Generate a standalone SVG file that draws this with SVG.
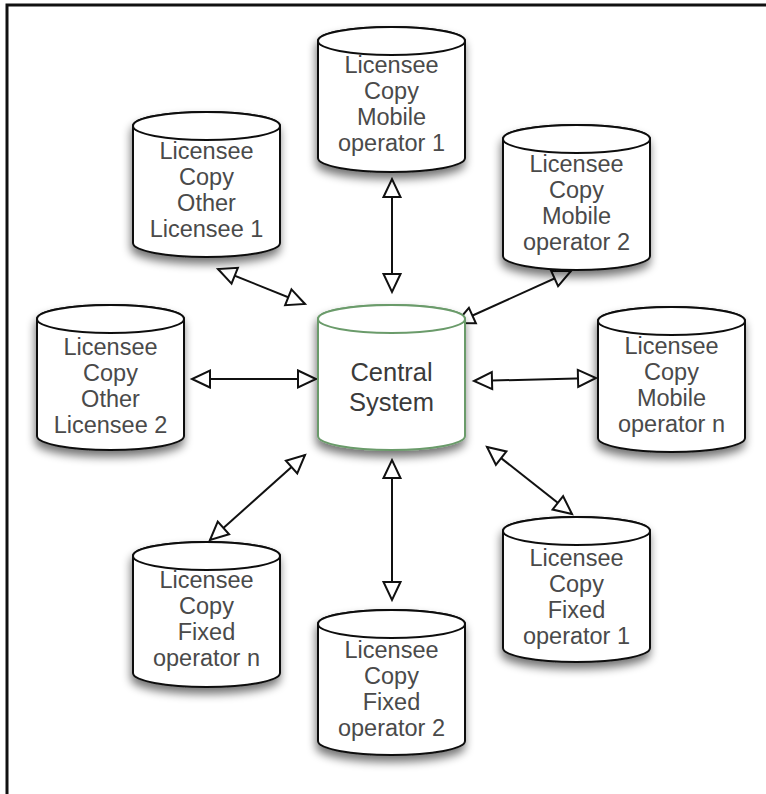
<svg xmlns="http://www.w3.org/2000/svg" xmlns:xlink="http://www.w3.org/1999/xlink" width="766" height="794" viewBox="0 0 766 794">
<style>
.cyl{fill:#fff;stroke:#111;stroke-width:2}
.cen{fill:#fff;stroke:#6b9b6b;stroke-width:2}
.lbl{font-family:"Liberation Sans",Arial,sans-serif;font-size:23.5px;fill:#4a4a4a;text-anchor:middle}
.clbl{font-family:"Liberation Sans",Arial,sans-serif;font-size:25.5px;fill:#3a3a3a;text-anchor:middle}
.con{stroke:#111;stroke-width:2;fill:none;marker-start:url(#ah);marker-end:url(#ah)}
</style>
<defs>
<filter id="sh" x="-20%" y="-20%" width="140%" height="150%">
<feGaussianBlur in="SourceAlpha" stdDeviation="5"/>
<feOffset dx="-1" dy="6" result="b"/>
<feComponentTransfer><feFuncA type="linear" slope="0.55"/></feComponentTransfer>
<feMerge><feMergeNode/><feMergeNode in="SourceGraphic"/></feMerge>
</filter>
<g id="cylshape">
<path d="M0,14 V131 A73.5,14 0 0 0 147,131 V14 A73.5,14 0 0 0 0,14 Z"/>
<ellipse cx="73.5" cy="14" rx="73.5" ry="14"/>
</g>
<marker id="ah" markerUnits="userSpaceOnUse" markerWidth="24" markerHeight="22" viewBox="-2 -2 24 22" refX="18" refY="8.5" orient="auto-start-reverse">
<path d="M0,0 L18,8.5 L0,17 Z" fill="#fff" stroke="#111" stroke-width="2" stroke-linejoin="miter"/>
</marker>
</defs>
<rect x="0" y="0" width="766" height="794" fill="#fff"/>
<path d="M7,794 V5 H766" fill="none" stroke="#111" stroke-width="3"/>
<g id="connectors">
<line class="con" x1="392" y1="179" x2="392" y2="292"/>
<line class="con" x1="218" y1="269" x2="305" y2="304"/>
<line class="con" x1="571" y1="271" x2="456" y2="323"/>
<line class="con" x1="192" y1="379" x2="316" y2="379"/>
<line class="con" x1="474" y1="381" x2="596" y2="378"/>
<line class="con" x1="487" y1="447" x2="572" y2="514"/>
<line class="con" x1="305" y1="455" x2="210" y2="540"/>
<line class="con" x1="392" y1="460" x2="392" y2="600"/>
</g>
<g id="mobile1">
<use xlink:href="#cylshape" class="cyl" filter="url(#sh)" transform="translate(318,27)"/>
<text class="lbl"><tspan x="391.5" y="73">Licensee</tspan><tspan x="391.5" y="99">Copy</tspan><tspan x="391.5" y="125">Mobile</tspan><tspan x="391.5" y="151">operator 1</tspan></text>
</g>
<g id="other1">
<use xlink:href="#cylshape" class="cyl" filter="url(#sh)" transform="translate(133,112)"/>
<text class="lbl"><tspan x="206.5" y="159">Licensee</tspan><tspan x="206.5" y="185">Copy</tspan><tspan x="206.5" y="211">Other</tspan><tspan x="206.5" y="237">Licensee 1</tspan></text>
</g>
<g id="mobile2">
<use xlink:href="#cylshape" class="cyl" filter="url(#sh)" transform="translate(503,125)"/>
<text class="lbl"><tspan x="576.5" y="172">Licensee</tspan><tspan x="576.5" y="198">Copy</tspan><tspan x="576.5" y="224">Mobile</tspan><tspan x="576.5" y="250">operator 2</tspan></text>
</g>
<g id="other2">
<use xlink:href="#cylshape" class="cyl" filter="url(#sh)" transform="translate(37,305)"/>
<text class="lbl"><tspan x="110.5" y="355">Licensee</tspan><tspan x="110.5" y="381">Copy</tspan><tspan x="110.5" y="407">Other</tspan><tspan x="110.5" y="433">Licensee 2</tspan></text>
</g>
<g id="mobileN">
<use xlink:href="#cylshape" class="cyl" filter="url(#sh)" transform="translate(598,307)"/>
<text class="lbl"><tspan x="671.5" y="354">Licensee</tspan><tspan x="671.5" y="380">Copy</tspan><tspan x="671.5" y="406">Mobile</tspan><tspan x="671.5" y="432">operator n</tspan></text>
</g>
<g id="central">
<use xlink:href="#cylshape" class="cen" filter="url(#sh)" transform="translate(318,305)"/>
<text class="clbl"><tspan x="391.5" y="381">Central</tspan><tspan x="391.5" y="411">System</tspan></text>
</g>
<g id="fixed1">
<use xlink:href="#cylshape" class="cyl" filter="url(#sh)" transform="translate(503,517)"/>
<text class="lbl"><tspan x="576.5" y="566">Licensee</tspan><tspan x="576.5" y="592">Copy</tspan><tspan x="576.5" y="618">Fixed</tspan><tspan x="576.5" y="644">operator 1</tspan></text>
</g>
<g id="fixedN">
<use xlink:href="#cylshape" class="cyl" filter="url(#sh)" transform="translate(133,542)"/>
<text class="lbl"><tspan x="206.5" y="588">Licensee</tspan><tspan x="206.5" y="614">Copy</tspan><tspan x="206.5" y="640">Fixed</tspan><tspan x="206.5" y="666">operator n</tspan></text>
</g>
<g id="fixed2">
<use xlink:href="#cylshape" class="cyl" filter="url(#sh)" transform="translate(318,610)"/>
<text class="lbl"><tspan x="391.5" y="658">Licensee</tspan><tspan x="391.5" y="684">Copy</tspan><tspan x="391.5" y="710">Fixed</tspan><tspan x="391.5" y="736">operator 2</tspan></text>
</g>
</svg>
